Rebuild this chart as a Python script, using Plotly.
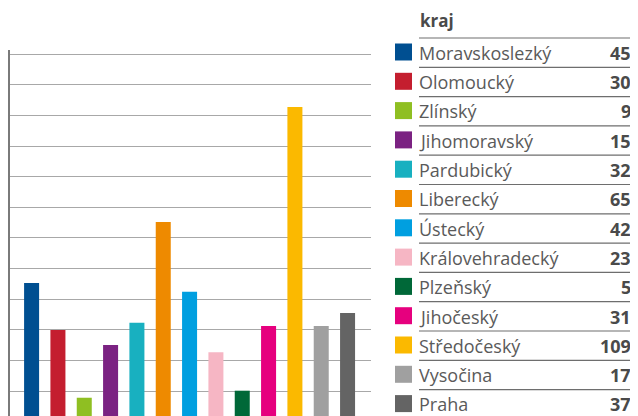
import plotly.graph_objects as go

# ---- data ----
regions = ["Moravskoslezký", "Olomoucký", "Zlínský", "Jihomoravský", "Pardubický",
           "Liberecký", "Ústecký", "Královehradecký", "Plzeňský", "Jihočeský",
           "Středočeský", "Vysočina", "Praha"]
legend_values = [45, 30, 9, 15, 32, 65, 42, 23, 5, 31, 109, 17, 37]
bar_values = [45.3, 29.9, 7.8, 25.0, 32.3, 65.2, 42.4, 22.7, 10.1, 31.2, 102.8, 31.2, 35.5]
colors = ["#004f91", "#c41e2f", "#8fbf22", "#7b2282", "#18b0c0", "#ee8a00", "#009fe0",
          "#f6b6c4", "#006838", "#e6007e", "#fbb900", "#a0a0a0", "#646464"]
legend_title = "kraj"

W, H = 638, 416
OFF = 8  # page body margin
ML, MR, MT, MB = 2, 275, 42, 0
PW, PH = W - ML - MR, H - MT - MB


def px2x(sx):
    return (sx - OFF - ML) / PW


def px2y(sy):
    return (H - MB - (sy - OFF)) / PH


fig = go.Figure()
fig.add_trace(go.Bar(
    x=regions, y=bar_values, marker=dict(color=colors, line=dict(width=0)),
    width=0.57, showlegend=False, hoverinfo="x+y"))

font = "Open Sans, Noto Sans, sans-serif"
annotations = []
shapes = []

annotations.append(dict(text=f"<b>{legend_title}</b>", x=px2x(418), y=px2y(21), xref="paper",
                        yref="paper", xanchor="left", yanchor="middle", showarrow=False,
                        font=dict(family=font, size=17, color="#4a4a4a")))

row0, step = 52.3, 29.3
for i, (name, val, col) in enumerate(zip(regions, legend_values, colors)):
    cy = row0 + step * i
    sep = cy - 14.3
    shapes.append(dict(type="line", xref="paper", yref="paper",
                       x0=px2x(419), x1=px2x(633), y0=px2y(sep), y1=px2y(sep),
                       line=dict(color="#6e6e6e", width=1.2)))
    shapes.append(dict(type="rect", xref="paper", yref="paper",
                       x0=px2x(395), x1=px2x(412), y0=px2y(cy - 8.8), y1=px2y(cy + 8.2),
                       fillcolor=col, line=dict(width=0)))
    annotations.append(dict(text=name, x=px2x(417), y=px2y(cy + 0.5), xref="paper", yref="paper",
                            xanchor="left", yanchor="middle", showarrow=False,
                            font=dict(family=font, size=18, color="#5a5a5a")))
    annotations.append(dict(text=f"<b>{val}</b>", x=px2x(633), y=px2y(cy + 0.5), xref="paper",
                            yref="paper", xanchor="right", yanchor="middle", showarrow=False,
                            font=dict(family=font, size=18, color="#4a4a4a")))

fig.update_layout(
    width=W, height=H,
    margin=dict(l=ML, r=MR, t=MT, b=MB, pad=0),
    paper_bgcolor="white", plot_bgcolor="white",
    xaxis=dict(range=[-0.82, 12.89], showticklabels=False, showgrid=False, zeroline=False,
               showline=False, ticks=""),
    yaxis=dict(range=[-0.78, 121.4], showticklabels=False, showgrid=True, gridcolor="#a8a8a8",
               gridwidth=1, tick0=0, dtick=10, zeroline=False, showline=True,
               linecolor="#7a7a7a", linewidth=1.5, ticks=""),
    annotations=annotations, shapes=shapes,
)

fig.write_html("out.html")
